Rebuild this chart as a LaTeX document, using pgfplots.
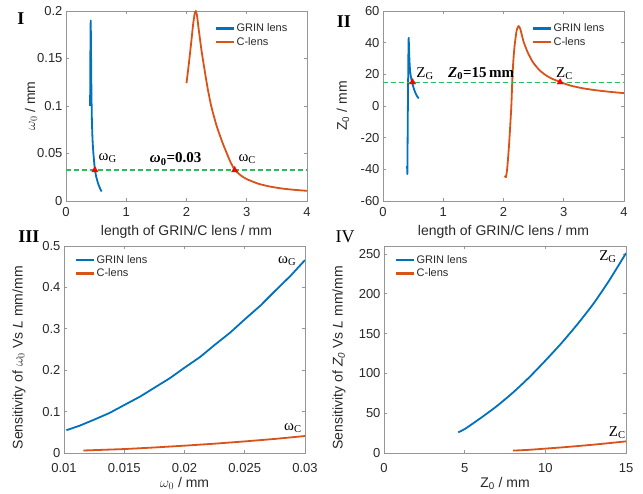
\documentclass[border=0pt]{standalone}
\usepackage{pgfplots}
\pgfplotsset{compat=1.18}
\usepackage{fontspec}
\setmainfont{Liberation Sans}
\newfontfamily\timesf{Liberation Serif}
\definecolor{mblue}{RGB}{0,114,189}
\definecolor{morange}{RGB}{217,83,25}
\definecolor{mgreen}{RGB}{40,190,90}
\definecolor{axgray}{RGB}{150,150,150}
\definecolor{txtgray}{RGB}{40,40,40}
\pgfplotsset{
  base/.style={
    scale only axis, width=241pt, height=190pt,
    axis line style={axgray, line width=0.6pt},
    tick style={axgray, line width=0.6pt},
    major tick length=3pt, tick pos=both,
    ticklabel style={font=\fontsize{13}{15}\selectfont, text=txtgray},
    xticklabel style={yshift=-3.2pt},
    label style={font=\fontsize{14}{16}\selectfont, text=txtgray},
    /pgf/number format/assume math mode=true, scaled ticks=false,
    legend style={draw=none, fill=none, font=\fontsize{11}{13}\selectfont, text=txtgray},
    legend cell align=left,
    legend image code/.code={\draw[##1, line width=2.2pt] (0pt,0pt) -- (18pt,0pt);},
    clip mode=individual,
  },
  bl/.style={mblue, line width=1.8pt, line join=round},
  ol/.style={morange, line width=1.8pt, line join=round},
  gl/.style={mgreen, line width=1.4pt, dash pattern=on 5pt off 3pt},
  tri/.style={only marks, mark=triangle*, mark size=3.6pt, red, forget plot},
}
\begin{document}
\begin{tikzpicture}
\path[use as bounding box] (0,0) rectangle (643pt,494pt);

% ---------- Panel I ----------
\begin{axis}[base, at={(66pt,293pt)}, anchor=south west,
  xmin=0, xmax=4, ymin=0, ymax=0.2,
  xtick={0,1,2,3,4}, xticklabels={0,1,2,3,4},
  ytick={0,0.05,0.1,0.15,0.2}, yticklabels={0,0.05,0.1,0.15,0.2},
  xlabel={length of GRIN/C lens / mm},
  ylabel={$\omega_0$ / mm},
  xlabel style={at={(axis description cs:0.5,-0.163)}, anchor=center},
  ylabel style={at={(axis description cs:-0.145,0.5)}, anchor=center},
  legend style={at={(0.94,0.955)}, anchor=north east}]
\addplot[bl, smooth, tension=0.35] coordinates {(0.40,0.100)(0.403,0.140)(0.407,0.175)(0.41,0.190)(0.414,0.170)(0.418,0.140)(0.423,0.110)(0.43,0.085)(0.44,0.065)(0.455,0.050)(0.47,0.039)(0.48,0.033)(0.50,0.026)(0.53,0.019)(0.56,0.014)(0.59,0.010)};
\addlegendentry{GRIN lens}
\addplot[ol, smooth, tension=0.35] coordinates {(2.00,0.124)(2.04,0.145)(2.08,0.168)(2.11,0.186)(2.135,0.197)(2.155,0.200)(2.175,0.195)(2.20,0.182)(2.25,0.158)(2.30,0.138)(2.35,0.119)(2.41,0.100)(2.50,0.079)(2.60,0.061)(2.67,0.050)(2.73,0.041)(2.80,0.033)(2.90,0.027)(3.00,0.023)(3.20,0.018)(3.40,0.0150)(3.60,0.0130)(3.80,0.0117)(4.00,0.0107)};
\addlegendentry{C-lens}
\addplot[gl, forget plot] coordinates {(0,0.0325)(4,0.0325)};
\addplot[tri] coordinates {(0.48,0.0325)(2.80,0.0325)};
\node[anchor=base west, inner sep=0, font=\timesf\fontsize{15}{17}\selectfont] at (axis cs:0.54,0.043) {ω\textsubscript{G}};
\node[anchor=base, inner sep=0, font=\timesf\bfseries\fontsize{15}{17}\selectfont] at (axis cs:1.82,0.040) {\textit{ω}\textsubscript{0}=0.03};
\node[anchor=base west, inner sep=0, font=\timesf\fontsize{15}{17}\selectfont] at (axis cs:2.86,0.042) {ω\textsubscript{C}};
\end{axis}

% ---------- Panel II ----------
\begin{axis}[base, at={(383pt,293pt)}, anchor=south west,
  xmin=0, xmax=4, ymin=-60, ymax=60,
  xtick={0,1,2,3,4}, xticklabels={0,1,2,3,4},
  ytick={-60,-40,-20,0,20,40,60}, yticklabels={-60,-40,-20,0,20,40,60},
  xlabel={length of GRIN/C lens / mm},
  ylabel={Z\textsubscript{0} / mm},
  xlabel style={at={(axis description cs:0.5,-0.163)}, anchor=center},
  ylabel style={at={(axis description cs:-0.166,0.5)}, anchor=center},
  legend style={at={(0.94,0.955)}, anchor=north east}]
\addplot[bl, smooth, tension=0.35] coordinates {(0.400,-38)(0.404,-43)(0.408,-25)(0.412,-5)(0.416,12)(0.420,28)(0.424,40)(0.427,43)(0.432,36)(0.44,28)(0.45,22)(0.465,18)(0.48,15.5)(0.50,12.5)(0.53,9)(0.56,6.5)(0.593,4.8)};
\addlegendentry{GRIN lens}
\addplot[ol, smooth, tension=0.35] coordinates {(2.02,-44)(2.04,-45)(2.06,-40)(2.08,-31)(2.10,-20)(2.13,0)(2.15,20)(2.17,32)(2.19,40)(2.22,48)(2.25,50.5)(2.28,48.5)(2.33,41)(2.40,34)(2.49,27.5)(2.60,22.5)(2.70,19.5)(2.80,17.3)(2.94,15.2)(3.10,13)(3.30,11.3)(3.50,10.1)(3.75,9)(4.00,8.1)};
\addlegendentry{C-lens}
\addplot[gl, forget plot] coordinates {(0,15)(4,15)};
\addplot[tri] coordinates {(0.49,15)(2.94,15)};
\node[anchor=base west, inner sep=0, font=\timesf\fontsize{15}{17}\selectfont] at (axis cs:0.55,18) {Z\textsubscript{G}};
\node[anchor=base, inner sep=0, font=\timesf\bfseries\fontsize{15}{17}\selectfont] at (axis cs:1.63,18) {\textit{Z}\textsubscript{0}=15\,mm};
\node[anchor=base west, inner sep=0, font=\timesf\fontsize{15}{17}\selectfont] at (axis cs:2.87,18) {Z\textsubscript{C}};
\end{axis}

% ---------- Panel III ----------
\begin{axis}[base, at={(64pt,41pt)}, anchor=south west, width=241pt, height=207pt,
  xmin=0.01, xmax=0.03, ymin=0, ymax=0.5,
  xticklabel style={yshift=-3.8pt},
  xtick={0.01,0.015,0.02,0.025,0.03}, xticklabels={0.01,0.015,0.02,0.025,0.03},
  ytick={0,0.1,0.2,0.3,0.4,0.5}, yticklabels={0,0.1,0.2,0.3,0.4,0.5},
  xlabel={$\omega_0$ / mm},
  ylabel={Sensitivity of $\omega_0$ Vs \textit{L} mm/mm},
  xlabel style={at={(axis description cs:0.5,-0.148)}, anchor=center},
  ylabel style={at={(axis description cs:-0.187,0.46)}, anchor=center},
  legend style={at={(0.03,0.975)}, anchor=north west}]
\addplot[bl] coordinates {(0.0102,0.055)(0.0113,0.066)(0.0125,0.0805)(0.0138,0.097)(0.015,0.1158)(0.0163,0.136)(0.0175,0.1576)(0.0188,0.181)(0.020,0.206)(0.0213,0.232)(0.0225,0.261)(0.0238,0.291)(0.025,0.3228)(0.0263,0.356)(0.0275,0.391)(0.0288,0.428)(0.030,0.466)};
\addlegendentry{GRIN lens}
\addplot[ol] coordinates {(0.0116,0.006)(0.015,0.0095)(0.0175,0.0133)(0.020,0.0177)(0.0225,0.0225)(0.025,0.028)(0.0275,0.034)(0.030,0.041)};
\addlegendentry{C-lens}
\node[anchor=base west, inner sep=0, font=\timesf\fontsize{15}{17}\selectfont] at (axis cs:0.02776,0.457) {ω\textsubscript{G}};
\node[anchor=base west, inner sep=0, font=\timesf\fontsize{15}{17}\selectfont] at (axis cs:0.02826,0.054) {ω\textsubscript{C}};
\end{axis}

% ---------- Panel IV ----------
\begin{axis}[base, at={(384pt,41pt)}, anchor=south west, width=242pt, height=207pt,
  xmin=0, xmax=15, ymin=0, ymax=260,
  xticklabel style={yshift=-3.8pt},
  xtick={0,5,10,15}, xticklabels={0,5,10,15},
  ytick={0,50,100,150,200,250}, yticklabels={0,50,100,150,200,250},
  xlabel={Z\textsubscript{0} / mm},
  ylabel={Sensitivity of \textit{Z\textsubscript{0}} Vs \textit{L} mm/mm},
  xlabel style={at={(axis description cs:0.5,-0.148)}, anchor=center},
  ylabel style={at={(axis description cs:-0.186,0.46)}, anchor=center},
  legend style={at={(0.03,0.975)}, anchor=north west}]
\addplot[bl, smooth, tension=0.35] coordinates {(4.6,26)(5,30)(6,44)(7,59)(8,76)(9,95)(10,116)(11,138)(12,162)(13,188)(14,218)(15,251)};
\addlegendentry{GRIN lens}
\addplot[ol, smooth, tension=0.35] coordinates {(8,3)(9,4)(10,5.5)(11,7)(12,8.7)(13,10.5)(14,12.5)(15,14.6)};
\addlegendentry{C-lens}
\node[anchor=base west, inner sep=0, font=\timesf\fontsize{15}{17}\selectfont] at (axis cs:13.33,242) {Z\textsubscript{G}};
\node[anchor=base west, inner sep=0, font=\timesf\fontsize{15}{17}\selectfont] at (axis cs:13.93,20.8) {Z\textsubscript{C}};
\end{axis}

% panel numbers
\node[font=\timesf\bfseries\fontsize{18}{20}\selectfont] at (21pt,475pt) {I};
\node[font=\timesf\bfseries\fontsize{18}{20}\selectfont] at (344pt,472pt) {II};
\node[font=\timesf\bfseries\fontsize{18}{20}\selectfont] at (29pt,257pt) {III};
\node[font=\timesf\fontsize{18}{20}\selectfont] at (345pt,257pt) {IV};
\end{tikzpicture}
\end{document}
